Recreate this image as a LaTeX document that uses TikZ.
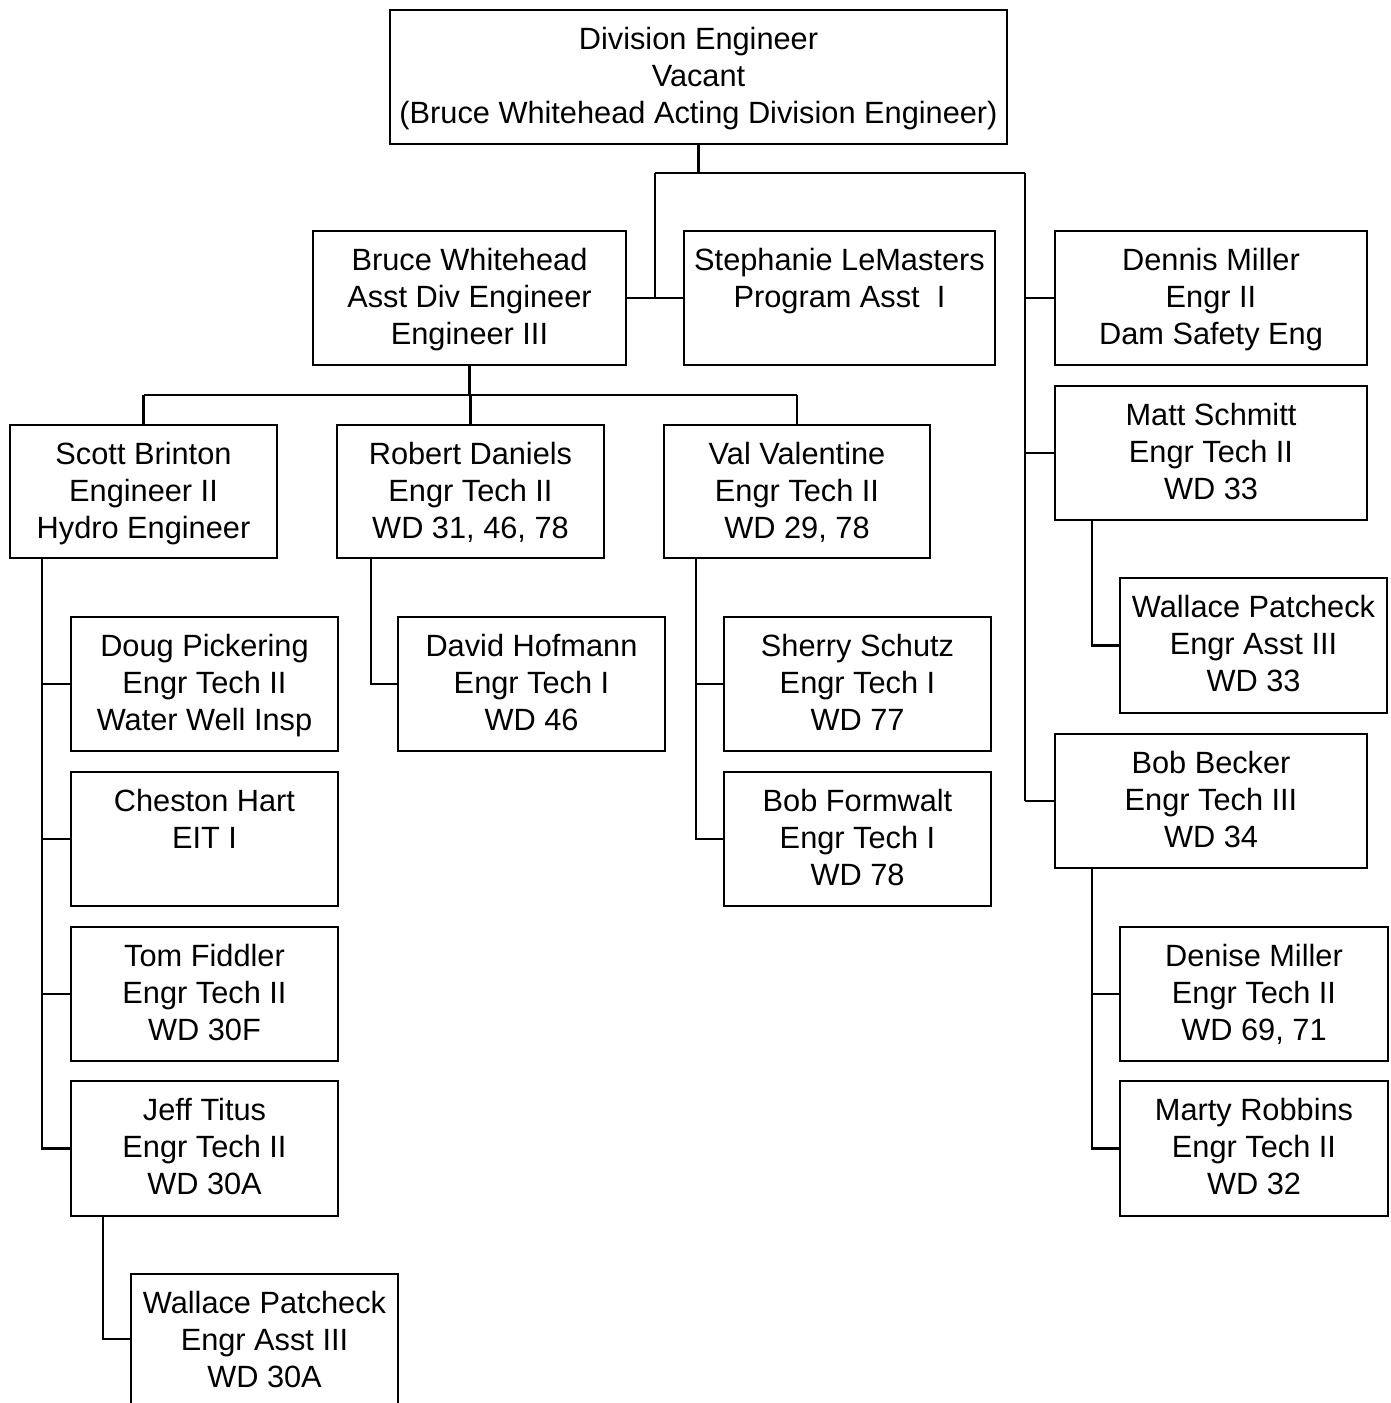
\documentclass[tikz,border=0pt]{standalone}
\usepackage{fontspec}
\setmainfont{Liberation Sans}
\usetikzlibrary{calc}
\newcommand\fs{\fontsize{17.5}{21.04}\selectfont}
\newcommand\ob[6]{%
  \node[box,minimum width={(#4-#2)*0.02cm},minimum height={(#5-#3)*0.02cm},anchor=north west] (#1) at (#2,#3) {};
  \node[txt] (#1t) at ($(#1.north)+(0,12.7)$) {\rule{0pt}{15pt}#6};}
\begin{document}
\begin{tikzpicture}[x=0.02cm,y=-0.02cm,
  box/.style={draw,line width=1.2pt,inner sep=0pt,outer sep=0pt},
  ln/.style={line width=1.2pt},
  txt/.style={align=center,font=\fs,inner sep=0pt,anchor=north}]
\useasboundingbox (0,0) rectangle (1391,1403);
\clip (0,0) rectangle (1391,1403);
\ob{top}{390}{10}{1007}{144}{Division Engineer\\Vacant\\(Bruce Whitehead Acting Division Engineer)}
\ob{bruce}{313}{231}{626}{365}{Bruce Whitehead\\Asst Div Engineer\\Engineer III}
\ob{steph}{684}{231}{995}{365}{Stephanie LeMasters\\Program Asst~ I}
\ob{dennis}{1055}{231}{1367}{365}{Dennis Miller\\Engr II\\Dam Safety Eng}
\ob{matt}{1055}{386}{1367}{520}{Matt Schmitt\\Engr Tech II\\WD 33}
\ob{wallR}{1120}{578}{1387}{713}{Wallace Patcheck\\Engr Asst III\\WD 33}
\ob{bob}{1055}{734}{1367}{868}{Bob Becker\\Engr Tech III\\WD 34}
\ob{denise}{1120}{927}{1388}{1061}{Denise Miller\\Engr Tech II\\WD 69, 71}
\ob{marty}{1120}{1081}{1388}{1216}{Marty Robbins\\Engr Tech II\\WD 32}
\ob{scott}{10}{425}{277}{558}{Scott Brinton\\Engineer II\\Hydro Engineer}
\ob{robert}{337}{425}{604}{558}{Robert Daniels\\Engr Tech II\\WD 31, 46, 78}
\ob{val}{664}{425}{930}{558}{Val Valentine\\Engr Tech II\\WD 29, 78}
\ob{doug}{71}{617}{338}{751}{Doug Pickering\\Engr Tech II\\Water Well Insp}
\ob{cheston}{71}{772}{338}{906}{Cheston Hart\\EIT I}
\ob{tom}{71}{927}{338}{1061}{Tom Fiddler\\Engr Tech II\\WD 30F}
\ob{jeff}{71}{1081}{338}{1216}{Jeff Titus\\Engr Tech II\\WD 30A}
\ob{wallB}{131}{1274}{398}{1412}{Wallace Patcheck\\Engr Asst III\\WD 30A}
\ob{david}{398}{617}{665}{751}{David Hofmann\\Engr Tech I\\WD 46}
\ob{sherry}{724}{617}{991}{751}{Sherry Schutz\\Engr Tech I\\WD 77}
\ob{formwalt}{724}{772}{991}{906}{Bob Formwalt\\Engr Tech I\\WD 78}
% top level connectors
\coordinate (jL) at (655,173);
\coordinate (jR) at (1025,173);
\draw[ln] (top.south) -- (top.south |- jL);
\draw[ln] (jL) -- (jR);
\draw[ln] (jL) -- (jL |- bruce.east);
\draw[ln] (bruce.east) -- (steph.west);
\draw[ln] (jR) -- (jR |- bob.west);
\draw[ln] (jR |- dennis.west) -- (dennis.west);
\draw[ln] (jR |- matt.west) -- (matt.west);
\draw[ln] (jR |- bob.west) -- (bob.west);
% Matt
\draw[ln] ($(matt.south west)+(37,0)$) |- (wallR.west);
% Bob Becker
\coordinate (bc) at ($(bob.south west)+(37,0)$);
\draw[ln] (bc) |- (marty.west);
\draw[ln] (bc |- denise.west) -- (denise.west);
% Bruce
\coordinate (bh) at ($(bruce.south)+(0,30)$);
\draw[ln] (bruce.south) -- (bh);
\draw[ln] (bh -| scott.north) -- (bh -| val.north);
\draw[ln] (bh -| scott.north) -- (scott.north);
\draw[ln] (bh -| robert.north) -- (robert.north);
\draw[ln] (bh -| val.north) -- (val.north);
% Scott
\coordinate (sc) at ($(scott.south west)+(32,0)$);
\draw[ln] (sc) |- (jeff.west);
\draw[ln] (sc |- doug.west) -- (doug.west);
\draw[ln] (sc |- cheston.west) -- (cheston.west);
\draw[ln] (sc |- tom.west) -- (tom.west);
% Jeff
\draw[ln] ($(jeff.south west)+(32,0)$) |- (wallB.west |- 0,1339);
% Robert
\draw[ln] ($(robert.south west)+(34,0)$) |- (david.west);
% Val
\coordinate (vc) at ($(val.south west)+(32,0)$);
\draw[ln] (vc) |- (formwalt.west);
\draw[ln] (vc |- sherry.west) -- (sherry.west);
\end{tikzpicture}
\end{document}
